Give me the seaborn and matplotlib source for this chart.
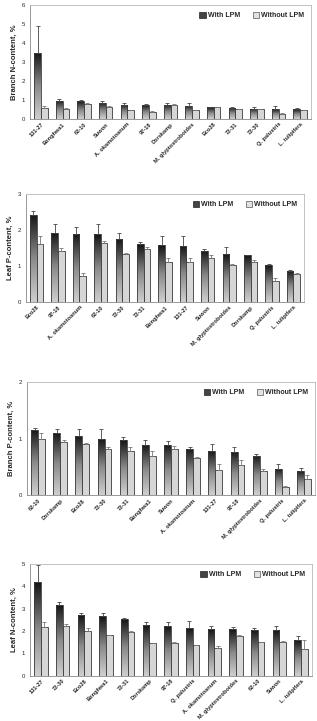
import numpy as np
import pandas as pd
import matplotlib
matplotlib.use("Agg")
import matplotlib.pyplot as plt
import seaborn as sns
from matplotlib.colors import LinearSegmentedColormap
from matplotlib.patches import Patch

sns.set_style("white")
plt.rcParams['font.family'] = ['Liberation Sans', 'DejaVu Sans']

# Branch N-content
bn_cats = ["131-27", "Bonghwa1", "62-10", "Suwon", "A. okamotoanum", "97-18", "Dorskamp",
           "M. glyptostroboides", "Eco28", "72-31", "72-30", "Q. palustris", "L. tulipifera"]
bn_with = [3.50, 0.95, 0.92, 0.85, 0.75, 0.73, 0.75, 0.70, 0.62, 0.60, 0.55, 0.50, 0.52]
bn_with_err = [1.38, 0.10, 0.06, 0.10, 0.10, 0.04, 0.07, 0.15, 0.03, 0.03, 0.07, 0.20, 0.05]
bn_wo = [0.58, 0.55, 0.78, 0.65, 0.45, 0.37, 0.75, 0.45, 0.62, 0.52, 0.50, 0.28, 0.47]
bn_wo_err = [0.10, 0.05, 0.06, 0.03, 0.02, 0.05, 0.02, 0.02, 0.02, 0.03, 0.03, 0.02, 0.02]

# Leaf P-content
lp_cats = ["Eco28", "97-18", "A. okamotoanum", "62-10", "72-30", "72-31", "Bonghwa1", "131-27",
           "Suwon", "M. glyptostroboides", "Dorskamp", "Q. palustris", "L. tulipifera"]
lp_with = [2.42, 1.93, 1.90, 1.88, 1.75, 1.60, 1.58, 1.57, 1.43, 1.33, 1.30, 1.02, 0.87]
lp_with_err = [0.12, 0.25, 0.17, 0.30, 0.18, 0.08, 0.25, 0.25, 0.04, 0.20, 0.02, 0.05, 0.03]
lp_wo = [1.62, 1.42, 0.73, 1.63, 1.33, 1.48, 1.12, 1.12, 1.23, 1.02, 1.12, 0.58, 0.78]
lp_wo_err = [0.22, 0.08, 0.08, 0.06, 0.02, 0.05, 0.10, 0.10, 0.07, 0.04, 0.05, 0.10, 0.03]

# Branch P-content
bp_cats = ["62-10", "Dorskamp", "Eco28", "72-30", "72-31", "Bonghwa1", "Suwon", "A. okamotoanum",
           "131-27", "97-18", "M. glyptostroboides", "Q. palustris", "L. tulipifera"]
bp_with = [1.15, 1.10, 1.05, 1.00, 0.97, 0.89, 0.89, 0.82, 0.78, 0.76, 0.69, 0.47, 0.43]
bp_with_err = [0.04, 0.07, 0.13, 0.17, 0.06, 0.08, 0.07, 0.04, 0.12, 0.10, 0.04, 0.09, 0.05]
bp_wo = [1.00, 0.95, 0.90, 0.81, 0.78, 0.70, 0.82, 0.66, 0.45, 0.53, 0.43, 0.15, 0.28]
bp_wo_err = [0.10, 0.02, 0.03, 0.05, 0.08, 0.08, 0.06, 0.01, 0.10, 0.10, 0.03, 0.02, 0.08]

# Leaf N-content
ln_cats = ["131-27", "72-30", "Eco28", "Bonghwa1", "72-31", "Dorskamp", "97-18", "Q. palustris",
           "A. okamotoanum", "M. glyptostroboides", "62-10", "Suwon", "L. tulipifera"]
ln_with = [4.20, 3.18, 2.70, 2.68, 2.55, 2.25, 2.23, 2.13, 2.10, 2.07, 2.05, 2.05, 1.58]
ln_with_err = [0.75, 0.10, 0.10, 0.12, 0.03, 0.13, 0.18, 0.32, 0.12, 0.10, 0.10, 0.18, 0.17]
ln_wo = [2.18, 2.22, 2.00, 1.80, 1.93, 1.45, 1.45, 1.35, 1.23, 1.75, 1.48, 1.50, 1.18]
ln_wo_err = [0.20, 0.08, 0.13, 0.03, 0.05, 0.02, 0.03, 0.02, 0.08, 0.05, 0.02, 0.05, 0.43]

grad = LinearSegmentedColormap.from_list("g", ["#cfcfcf", "#8a8a8a", "#151515"])


def panel(ax, cats, w, we, wo, woe, ymax, ylabel):
    n = len(cats)
    df = pd.DataFrame({"clone": cats * 2,
                       "treat": ["With LPM"] * n + ["Without LPM"] * n,
                       "val": w + wo})
    sns.barplot(data=df, x="clone", y="val", hue="treat", palette=["#555555", "#d6d6d6"],
                width=0.62, errorbar=None, edgecolor="#3a3a3a", linewidth=0.6,
                legend=False, ax=ax)
    g = np.linspace(0, 1, 100).reshape(-1, 1)
    for bar in ax.containers[0]:
        x0, h = bar.get_x(), bar.get_height()
        bar.set_facecolor("none")
        im = ax.imshow(g, cmap=grad, origin="lower", aspect="auto",
                       extent=[x0, x0 + bar.get_width(), 0, h], zorder=bar.get_zorder() - 0.1)
        im.set_clip_path(bar)
    for cont, err, col in [(ax.containers[0], we, "#444444"), (ax.containers[1], woe, "#777777")]:
        xs = [b.get_x() + b.get_width() / 2 for b in cont]
        hs = [b.get_height() for b in cont]
        ax.errorbar(xs, hs, yerr=[np.zeros(n), err], fmt="none", ecolor=col,
                    elinewidth=0.6, capsize=1.3, capthick=0.6)
    ax.set_xlim(-0.5, n - 0.5)
    ax.set_ylim(0, ymax)
    ax.set_yticks(range(ymax + 1))
    ax.set_xlabel("")
    ax.set_ylabel(ylabel, fontsize=5.5, fontweight="bold", labelpad=3)
    ax.set_xticks(range(n))
    ax.set_xticklabels(cats, rotation=45, ha="right", fontsize=4.1, fontweight="bold",
                       rotation_mode="anchor")
    ax.set_xticks(np.arange(n + 1) - 0.5, minor=True)
    ax.tick_params(axis="x", which="major", length=0, pad=2)
    ax.tick_params(axis="x", which="minor", length=1.5, width=0.5, color="#777")
    ax.tick_params(axis="y", labelsize=4.3, length=1.5, width=0.5, pad=2, color="#777")
    for s in ["top", "right"]:
        ax.spines[s].set_color("#b8b8b8")
        ax.spines[s].set_linewidth(0.6)
    for s in ["left", "bottom"]:
        ax.spines[s].set_color("#888888")
        ax.spines[s].set_linewidth(0.6)
    handles = [Patch(facecolor="#444444", edgecolor="#222222", linewidth=0.5),
               Patch(facecolor="#e2e2e2", edgecolor="#555555", linewidth=0.5)]
    ax.legend(handles, ["With LPM", "Without LPM"], ncol=2, frameon=False,
              loc="upper right", prop={"weight": "bold", "size": 5},
              handlelength=0.9, handleheight=0.9, handletextpad=0.3, columnspacing=1.8,
              borderaxespad=0.6)


fig = plt.figure(figsize=(3.17, 7.21), dpi=100)
ax1 = fig.add_axes([0.095, 0.835, 0.886, 0.158])
ax2 = fig.add_axes([0.082, 0.581, 0.877, 0.150])
ax3 = fig.add_axes([0.085, 0.313, 0.909, 0.157])
ax4 = fig.add_axes([0.095, 0.063, 0.889, 0.155])

panel(ax1, bn_cats, bn_with, bn_with_err, bn_wo, bn_wo_err, 6, "Branch N-content, %")
panel(ax2, lp_cats, lp_with, lp_with_err, lp_wo, lp_wo_err, 3, "Leaf P-content, %")
panel(ax3, bp_cats, bp_with, bp_with_err, bp_wo, bp_wo_err, 2, "Branch P-content, %")
panel(ax4, ln_cats, ln_with, ln_with_err, ln_wo, ln_wo_err, 5, "Leaf N-content, %")

fig.savefig("out.png", dpi=100)
